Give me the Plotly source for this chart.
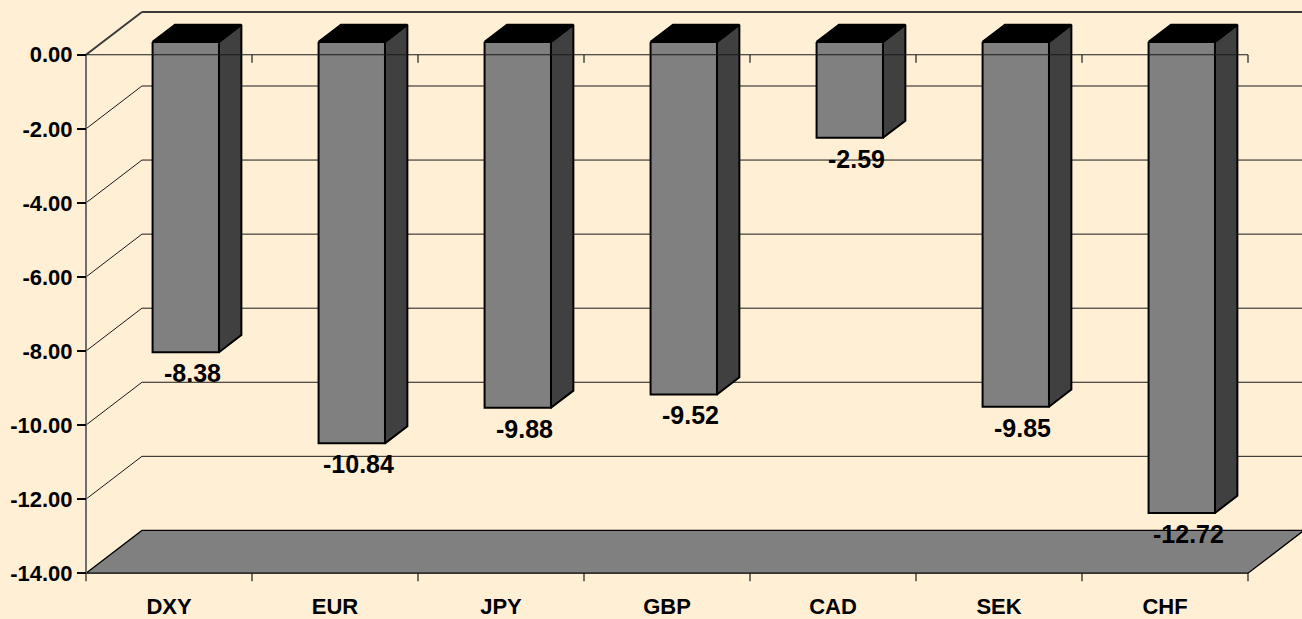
import plotly.graph_objects as go

categories = ["DXY", "EUR", "JPY", "GBP", "CAD", "SEK", "CHF"]
changes = [-8.38, -10.84, -9.88, -9.52, -2.59, -9.85, -12.72]
y_ticks = [0, -2, -4, -6, -8, -10, -12, -14]
y_tick_labels = [f"{v:.2f}" for v in y_ticks]

# Pseudo-3D geometry, expressed in axis units
DEPTH_X = 0.337     # horizontal offset of the back wall (category units)
DEPTH_Y = 1.156     # vertical offset of the back wall (value units)
BAR_W = 0.4         # bar width (category units)
BAR_FRONT = 0.3     # depth fraction of the bar's front face
BAR_BACK = 0.7      # depth fraction of the bar's back face
TICK = 0.215        # category tick length (value units)
FLOOR = y_ticks[-1]
TOP = y_ticks[0]
n = len(categories)

BG = "#FFEFD5"
FONT = "Liberation Sans, Arial, sans-serif"


def at_depth(x, y, f):
    return x + f * DEPTH_X, y + f * DEPTH_Y


def poly_path(polys):
    xs, ys = [], []
    for pts in polys:
        for (px, py) in pts + [pts[0]]:
            xs.append(px)
            ys.append(py)
        xs.append(None)
        ys.append(None)
    return xs, ys


def seg_path(segs):
    xs, ys = [], []
    for seg in segs:
        for (px, py) in seg:
            xs.append(px)
            ys.append(py)
        xs.append(None)
        ys.append(None)
    return xs, ys


fig = go.Figure()

# Back wall gridlines with their diagonals along the left wall
grid_segs = []
for v in y_ticks[1:-1]:
    bx, by = at_depth(0, v, 1)
    grid_segs.append([(0, v), (bx, by), (n + DEPTH_X, by)])
gx, gy = seg_path(grid_segs)
fig.add_trace(go.Scatter(x=gx, y=gy, mode="lines",
                         line=dict(color="#1a1a1a", width=1), hoverinfo="skip"))

# Top edge of the walls at zero
bx, by = at_depth(0, TOP, 1)
fig.add_trace(go.Scatter(x=[0, bx, None, bx, n + DEPTH_X], y=[TOP, by, None, by, by],
                         mode="lines", line=dict(color="#3a3a3a", width=2),
                         hoverinfo="skip"))

# Floor
floor_pts = [(0, FLOOR), (n, FLOOR), at_depth(n, FLOOR, 1), at_depth(0, FLOOR, 1)]
fx, fy = poly_path([floor_pts])
fig.add_trace(go.Scatter(x=fx, y=fy, mode="lines", fill="toself",
                         fillcolor="#808080", line=dict(color="#000000", width=1.3),
                         hoverinfo="skip"))

# Value axis line
fig.add_trace(go.Scatter(x=[0, 0], y=[TOP, FLOOR], mode="lines",
                         line=dict(color="#6e6e6e", width=2), hoverinfo="skip"))

# Bars: side, top and front faces
fronts, sides, tops = [], [], []
for i, v in enumerate(changes):
    x0 = i + 0.5 - BAR_W / 2
    x1 = i + 0.5 + BAR_W / 2
    fronts.append([at_depth(x0, 0, BAR_FRONT), at_depth(x1, 0, BAR_FRONT),
                   at_depth(x1, v, BAR_FRONT), at_depth(x0, v, BAR_FRONT)])
    sides.append([at_depth(x1, 0, BAR_FRONT), at_depth(x1, 0, BAR_BACK),
                  at_depth(x1, v, BAR_BACK), at_depth(x1, v, BAR_FRONT)])
    tops.append([at_depth(x0, 0, BAR_FRONT), at_depth(x1, 0, BAR_FRONT),
                 at_depth(x1, 0, BAR_BACK), at_depth(x0, 0, BAR_BACK)])

for polys, color in ((sides, "#404040"), (tops, "#000000"), (fronts, "#808080")):
    px, py = poly_path(polys)
    fig.add_trace(go.Scatter(x=px, y=py, mode="lines", fill="toself",
                             fillcolor=color, line=dict(color="#000000", width=2),
                             hoverinfo="skip"))

# Category axis lines at zero and at the floor, with boundary ticks
tick_segs = [[(0, TOP), (n, TOP)]]
tick_segs += [[(k, TOP), (k, TOP - TICK)] for k in range(1, n + 1)]
tick_segs += [[(k, FLOOR), (k, FLOOR - TICK)] for k in range(0, n + 1)]
tx, ty = seg_path(tick_segs)
fig.add_trace(go.Scatter(x=tx, y=ty, mode="lines",
                         line=dict(color="#1a1a1a", width=1.2), hoverinfo="skip"))

# Value labels under each bar
for i, v in enumerate(changes):
    fig.add_annotation(x=i + 0.64, y=v + BAR_FRONT * DEPTH_Y, text=f"{v:.2f}",
                       showarrow=False, yanchor="middle", yshift=-21,
                       font=dict(family=FONT, size=25, color="#000000", weight="bold"))

W, H = 1302, 619
x_left_px, x_unit_px = 86, 166
y_zero_px, y_unit_px = 55, 521 / 14

fig.update_layout(
    width=W, height=H,
    margin=dict(l=0, r=0, t=0, b=0),
    paper_bgcolor=BG, plot_bgcolor=BG,
    showlegend=False,
    xaxis=dict(
        range=[-x_left_px / x_unit_px, (W - x_left_px) / x_unit_px],
        domain=[0, 1], anchor="free", position=(H - (y_zero_px + 14 * y_unit_px)) / H,
        tickvals=[i + 0.5 for i in range(n)], ticktext=categories,
        ticks="outside", ticklen=13, tickcolor="rgba(0,0,0,0)",
        showgrid=False, zeroline=False, showline=False, fixedrange=True,
        tickfont=dict(family=FONT, size=22, color="#000000", weight="bold"),
    ),
    yaxis=dict(
        domain=[0, 1], anchor="free", position=x_left_px / W,
        tickvals=y_ticks, ticktext=y_tick_labels,
        ticks="outside", ticklen=9, tickwidth=1.5, tickcolor="#000000",
        showgrid=False, zeroline=False, showline=False, fixedrange=True,
        autorange=False, range=[-(H - y_zero_px) / y_unit_px, y_zero_px / y_unit_px],
        tickfont=dict(family=FONT, size=22, color="#000000", weight="bold"),
    ),
)

fig.write_html("out.html", config={"displayModeBar": False})
